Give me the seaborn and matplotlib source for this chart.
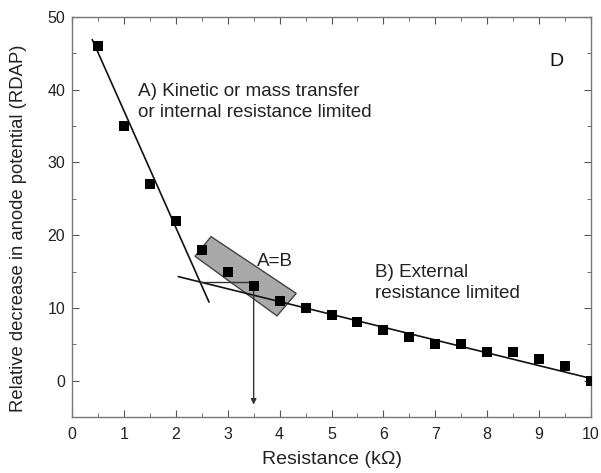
import matplotlib
matplotlib.use("Agg")
import matplotlib.pyplot as plt
import seaborn as sns
import pandas as pd
from matplotlib.patches import Polygon
from matplotlib.ticker import MultipleLocator

# Data
resistance = [0.5, 1.0, 1.5, 2.0, 2.5, 3.0, 3.5, 4.0, 4.5, 5.0, 5.5, 6.0, 6.5, 7.0, 7.5, 8.0, 8.5, 9.0, 9.5, 10.0]
rdap = [46, 35, 27, 22, 18, 15, 13, 11, 10, 9, 8, 7, 6, 5, 5, 4, 4, 3, 2, 0]

line_a_x = [0.39, 2.64]
line_a_y = [46.9, 10.8]
line_b_x = [2.05, 10.0]
line_b_y = [14.3, 0.3]

box_x = [2.68, 4.32, 3.95, 2.37]
box_y = [19.8, 12.0, 8.9, 17.1]

arrow_x = [2.47, 3.5]
arrow_y = [13.6, -3.3]

sns.set_style("ticks")
plt.rcParams['font.family'] = ['Liberation Sans', 'DejaVu Sans']

fig = plt.figure(figsize=(6.01, 4.73), dpi=100)
ax = fig.add_axes([72/601, 1-417/473, 519/601, 400/473])

df = pd.DataFrame({"x": resistance, "y": rdap})

# shaded A=B region
ax.add_patch(Polygon(list(zip(box_x, box_y)), closed=True, facecolor="#a9a9a9",
                     edgecolor="#444444", linewidth=1.0, zorder=1))

sns.lineplot(x=line_a_x, y=line_a_y, color="#111111", linewidth=1.2, ax=ax, zorder=2)
sns.lineplot(x=line_b_x, y=line_b_y, color="#111111", linewidth=1.2, ax=ax, zorder=2)

# horizontal connector and arrow
ax.plot([arrow_x[0], arrow_x[1]], [arrow_y[0], arrow_y[0]], color="#333333", linewidth=1.0, zorder=2)
ax.annotate("", xy=(arrow_x[1], arrow_y[1]), xytext=(arrow_x[1], arrow_y[0]),
            arrowprops=dict(arrowstyle="-|>", color="#333333", lw=1.0,
                            mutation_scale=8, shrinkA=0, shrinkB=0), zorder=2)

sns.scatterplot(data=df, x="x", y="y", marker="s", s=45, color="black",
                edgecolor="black", linewidth=0, ax=ax, zorder=3)

ax.set_xlim(0, 10)
ax.set_ylim(-5, 50)
ax.xaxis.set_major_locator(MultipleLocator(1))
ax.xaxis.set_minor_locator(MultipleLocator(0.5))
ax.yaxis.set_major_locator(MultipleLocator(10))
ax.yaxis.set_minor_locator(MultipleLocator(5))
ax.tick_params(which="both", direction="in", top=True, right=True, labelsize=11.5,
               color="#555555", labelcolor="#222222")
ax.tick_params(which="major", length=5)
ax.tick_params(which="minor", length=3)
ax.tick_params(axis="x", which="major", pad=7)
ax.tick_params(axis="y", which="major", pad=5)
for s in ax.spines.values():
    s.set_color("#777777")
    s.set_linewidth(1.0)

ax.set_xlabel("Resistance (kΩ)", fontsize=14, color="#222222")
ax.set_ylabel("Relative decrease in anode potential (RDAP)", fontsize=13.3, color="#222222")
ax.xaxis.set_label_coords(0.5, -0.085)
ax.yaxis.set_label_coords(-0.087, 0.4725)

ax.text(1.27, 38.3, "A) Kinetic or mass transfer\nor internal resistance limited",
        fontsize=13.6, va="center", ha="left", linespacing=1.3, color="#222222")
ax.text(5.83, 13.4, "B) External\nresistance limited",
        fontsize=13.6, va="center", ha="left", linespacing=1.3, color="#222222")
ax.text(3.91, 16.4, "A=B", fontsize=13.6, va="center", ha="center", color="#222222")
ax.text(9.34, 43.9, "D", fontsize=14, va="center", ha="center", color="#111111")

fig.savefig("out.png", dpi=100)
